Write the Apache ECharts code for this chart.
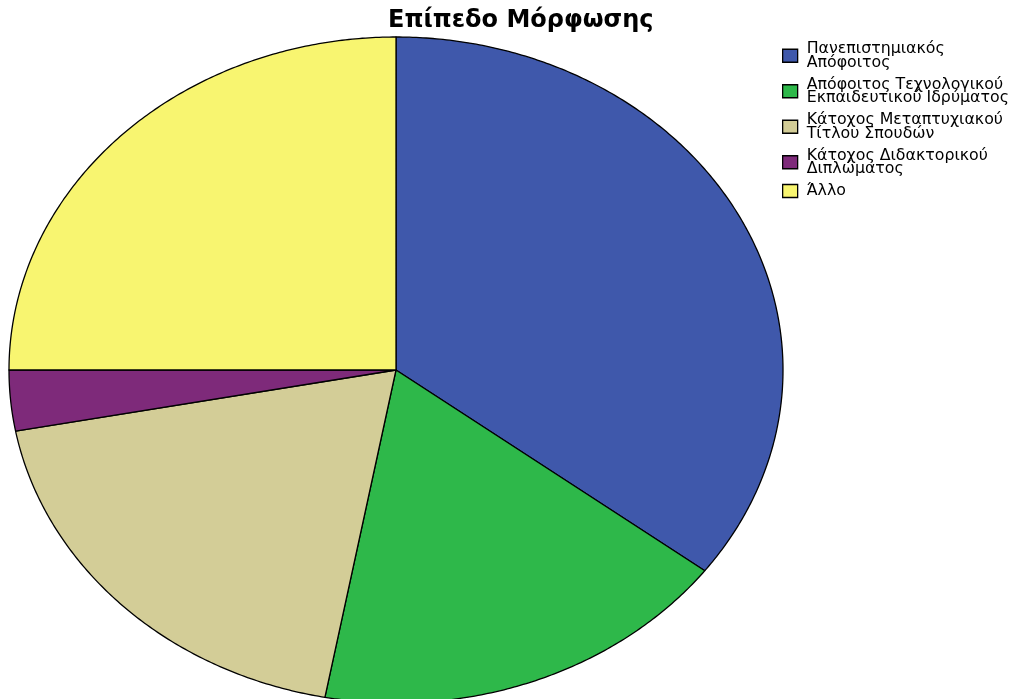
<!DOCTYPE html>
<html>
<head>
<meta charset="utf-8">
<script src="https://cdn.jsdelivr.net/npm/echarts@6/dist/echarts.min.js"></script>
<style>
html,body{margin:0;padding:0;background:#fff;}
#chart{width:1013px;height:699px;}
</style>
</head>
<body>
<div id="chart"></div>
<script>
const titleText = 'Επίπεδο Μόρφωσης';
const categories = [
  'Πανεπιστημιακός Απόφοιτος',
  'Απόφοιτος Τεχνολογικού Εκπαιδευτικού Ιδρύματος',
  'Κάτοχος Μεταπτυχιακού Τίτλου Σπουδών',
  'Κάτοχος Διδακτορικού Διπλώματος',
  'Άλλο'
];
const legendLabels = [
  'Πανεπιστημιακός\nΑπόφοιτος',
  'Απόφοιτος Τεχνολογικού\nΕκπαιδευτικού Ιδρύματος',
  'Κάτοχος Μεταπτυχιακού\nΤίτλου Σπουδών',
  'Κάτοχος Διδακτορικού\nΔιπλώματος',
  'Άλλο'
];
const values = [24, 12, 13, 2, 17];
const colors = ['#3F58AB', '#2EB84A', '#D3CD97', '#7E2A7A', '#F8F570'];

const total = values.reduce((a, b) => a + b, 0);
let cum = 0;
const spans = values.map(v => { const s = [cum / total, (cum + v) / total]; cum += v; return s; });

// ellipse geometry (pixels)
const CX = 396, CY = 370, RX = 387, RY = 333;

function renderSector(params, api) {
  const a0 = api.value(0) * Math.PI * 2;
  const a1 = api.value(1) * Math.PI * 2;
  const n = Math.max(2, Math.ceil((a1 - a0) / (Math.PI / 360)));
  const pts = [[CX, CY]];
  for (let k = 0; k <= n; k++) {
    const t = a0 + (a1 - a0) * k / n;
    pts.push([CX + RX * Math.sin(t), CY - RY * Math.cos(t)]);
  }
  return {
    type: 'polygon',
    shape: { points: pts },
    style: { fill: api.visual('color'), stroke: '#000', lineWidth: 1.3, lineJoin: 'round' }
  };
}

const series = categories.map((name, i) => ({
  type: 'custom',
  name: name,
  coordinateSystem: 'none',
  itemStyle: { color: colors[i] },
  data: [spans[i]],
  renderItem: renderSector,
  silent: true
}));

const chart = echarts.init(document.getElementById('chart'), null, { renderer: 'canvas' });
chart.setOption({
  animation: false,
  backgroundColor: '#fff',
  title: {
    text: titleText,
    left: 388,
    top: 9,
    padding: 0,
    textStyle: { fontFamily: 'DejaVu Sans, sans-serif', fontSize: 24, fontWeight: 'bold', color: '#000' }
  },
  legend: {
    orient: 'vertical',
    left: 782,
    top: 41,
    padding: 0,
    icon: 'rect',
    itemWidth: 15,
    itemHeight: 13,
    itemGap: 6,
    data: categories,
    itemStyle: { borderColor: '#000', borderWidth: 1.3 },
    formatter: name => legendLabels[categories.indexOf(name)],
    textStyle: { fontFamily: 'DejaVu Sans, sans-serif', fontSize: 15.8, lineHeight: 13.5, color: '#000', padding: [0, 0, 0, 4] }
  },
  series: series
});
</script>
</body>
</html>
